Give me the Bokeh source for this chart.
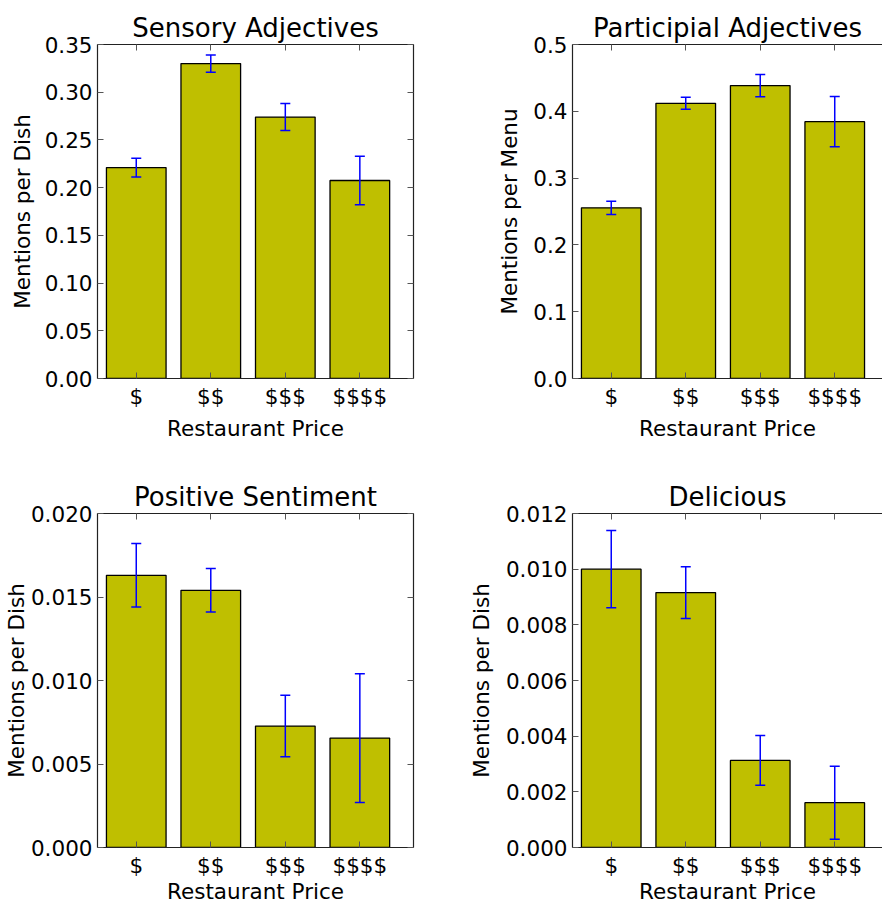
from bokeh.plotting import figure
from bokeh.layouts import column, row
from bokeh.models import (ColumnDataSource, Range1d, FixedTicker, NumeralTickFormatter,
                          LinearAxis, Whisker, TeeHead, PlainText)
from bokeh.embed import file_html
from bokeh.resources import INLINE

# Price tiers shared by all panels
price_labels = ["$", "$$", "$$$", "$$$$"]
price_pos = [0, 1, 2, 3]

# Sensory adjectives, mentions per dish
sensory_vals = [0.221, 0.330, 0.274, 0.2075]
sensory_errs = [0.0099, 0.0090, 0.0142, 0.0253]
sensory_ticks = [0.00, 0.05, 0.10, 0.15, 0.20, 0.25, 0.30, 0.35]

# Participial adjectives, mentions per menu
particip_vals = [0.2555, 0.412, 0.4385, 0.3845]
particip_errs = [0.0100, 0.0090, 0.0167, 0.0375]
particip_ticks = [0.0, 0.1, 0.2, 0.3, 0.4, 0.5]

# Positive sentiment, mentions per dish
positive_vals = [0.0163, 0.0154, 0.00727, 0.00655]
positive_errs = [0.0019, 0.0013, 0.00184, 0.00386]
positive_ticks = [0.000, 0.005, 0.010, 0.015, 0.020]

# "Delicious", mentions per dish
delicious_vals = [0.0100, 0.00916, 0.00313, 0.00161]
delicious_errs = [0.00139, 0.00093, 0.00089, 0.00131]
delicious_ticks = [0.000, 0.002, 0.004, 0.006, 0.008, 0.010, 0.012]

FONT = "DejaVu Sans"
TICK_SIZE = "21.5px"
BAR_COLOR = "#bfbf00"
AX_COLOR = "#222222"


def style_ticks(ax):
    ax.major_tick_in = 6
    ax.major_tick_out = 0
    ax.minor_tick_in = 0
    ax.minor_tick_out = 0
    ax.axis_line_color = AX_COLOR
    ax.axis_line_width = 1.2
    ax.major_tick_line_color = "#555555"
    ax.major_tick_line_width = 1


def panel(title, ylabel, vals, errs, yticks, yfmt, width, height, x_end,
          border, right_axis, ylabel_standoff, xlabel_standoff, title_offset=0):
    left, right, top, bottom = border
    p = figure(width=width, height=height, output_backend="svg",
               toolbar_location=None, tools="",
               x_range=Range1d(-0.52, x_end),
               y_range=Range1d(yticks[0], yticks[-1]),
               min_border_left=left, min_border_right=right,
               min_border_top=top, min_border_bottom=bottom,
               background_fill_color="white", border_fill_color="white")
    p.outline_line_color = None
    p.xgrid.visible = False
    p.ygrid.visible = False

    p.title.text = title
    p.title.align = "center"
    p.title.text_font = FONT
    p.title.text_font_size = "26px"
    p.title.text_font_style = "normal"
    p.title.text_color = "black"
    p.title.standoff = 4
    p.title.offset = title_offset

    src = ColumnDataSource(dict(
        x=price_pos, top=vals,
        upper=[v + e for v, e in zip(vals, errs)],
        lower=[v - e for v, e in zip(vals, errs)],
    ))
    p.vbar(x="x", top="top", width=0.8, source=src,
           fill_color=BAR_COLOR, line_color="black", line_width=1.3)

    w = Whisker(source=src, base="x", upper="upper", lower="lower",
                line_color="blue", line_width=1.5, level="overlay",
                upper_head=TeeHead(size=10, line_color="blue", line_width=1.5),
                lower_head=TeeHead(size=10, line_color="blue", line_width=1.5))
    p.add_layout(w)

    xt = FixedTicker(ticks=price_pos)
    yt = FixedTicker(ticks=yticks)

    xa = p.xaxis[0]
    xa.ticker = xt
    # plain text so "$...$" is not read as math
    xa.major_label_overrides = {i: PlainText(lab) for i, lab in zip(price_pos, price_labels)}
    xa.axis_label = "Restaurant Price"

    ya = p.yaxis[0]
    ya.ticker = yt
    ya.formatter = NumeralTickFormatter(format=yfmt)
    ya.axis_label = ylabel

    for ax in (xa, ya):
        style_ticks(ax)
        ax.major_label_text_font = FONT
        ax.major_label_text_font_size = TICK_SIZE
        ax.major_label_text_color = "black"
        ax.axis_label_text_font = FONT
        ax.axis_label_text_font_size = TICK_SIZE
        ax.axis_label_text_font_style = "normal"
        ax.axis_label_text_color = "black"
    xa.major_label_standoff = 5
    xa.axis_label_standoff = xlabel_standoff
    ya.major_label_standoff = 5
    ya.axis_label_standoff = ylabel_standoff

    # mirrored tick marks on the top (and right) spines, without labels
    extra = [("above", xt)]
    if right_axis:
        extra.append(("right", yt))
    for side, tk in extra:
        ax = LinearAxis(ticker=tk)
        style_ticks(ax)
        ax.major_label_overrides = {t: "" for t in tk.ticks}
        ax.major_label_text_font_size = "1px"
        ax.major_label_standoff = 0
        ax.axis_label_standoff = 0
        p.add_layout(ax, side)
    return p


# frame spans 97..413 (left column) and 572..888 (right column, cut at 882)
right_end = -0.52 + 310 / 74.5

p1 = panel("Sensory Adjectives", "Mentions per Dish", sensory_vals, sensory_errs,
           sensory_ticks, "0.00", 440, 455, 3.72, (97, 27, 44, 77), True, 7, 4)
p2 = panel("Participial Adjectives", "Mentions per Menu", particip_vals, particip_errs,
           particip_ticks, "0.0", 442, 455, right_end, (132, 0, 44, 77), False, 8, 4,
           title_offset=6)
p3 = panel("Positive Sentiment", "Mentions per Dish", positive_vals, positive_errs,
           positive_ticks, "0.000", 440, 451, 3.72, (97, 27, 58, 59), True, -1, -2)
p4 = panel("Delicious", "Mentions per Dish", delicious_vals, delicious_errs,
           delicious_ticks, "0.000", 442, 451, right_end, (132, 0, 58, 59), False, 9, -2,
           title_offset=6)

layout = column(row(p1, p2, spacing=0), row(p3, p4, spacing=0), spacing=0)

with open("out.html", "w") as f:
    f.write(file_html(layout, INLINE))
